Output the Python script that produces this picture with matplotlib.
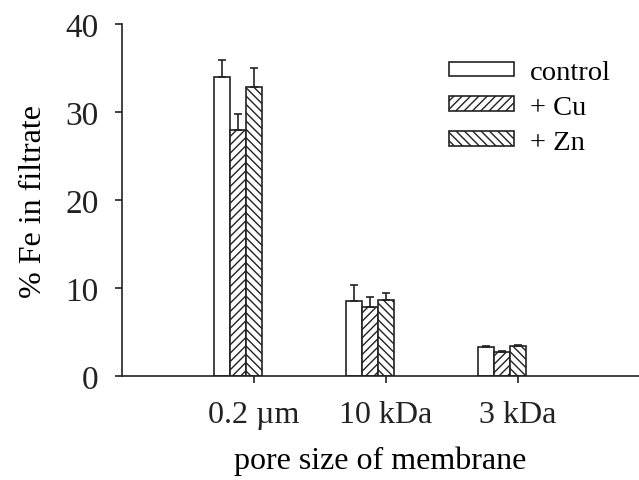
import numpy as np
import matplotlib
matplotlib.use("Agg")
import matplotlib.pyplot as plt

plt.rcParams['font.family'] = ['Liberation Serif', 'DejaVu Serif']
plt.rcParams['hatch.linewidth'] = 1.0

categories = ["0.2 \u00b5m", "10 kDa", "3 kDa"]
series = ["control", "+ Cu", "+ Zn"]
control = [34.0, 8.5, 3.3]
control_err = [1.9, 1.9, 0.1]
cu = [28.0, 7.8, 2.7]
cu_err = [1.8, 1.2, 0.1]
zn = [32.9, 8.7, 3.4]
zn_err = [2.1, 0.7, 0.1]

hatches = ["", "////", "\\\\\\\\"]
offsets = [-0.242, -0.121, 0.0]
width = 0.121

fig = plt.figure(figsize=(6.39, 4.81), dpi=100)
ax = fig.add_axes([0.191, 0.216, 0.809, 0.732])

x = np.arange(len(categories))
for vals, errs, h, off, lab in zip([control, cu, zn], [control_err, cu_err, zn_err],
                                   hatches, offsets, series):
    ax.bar(x + off, vals, width, facecolor="white", edgecolor="#222222",
           linewidth=1.2, hatch=h, label=lab, zorder=2)
    ax.errorbar(x + off, vals, yerr=[np.zeros(len(errs)), errs], fmt="none",
                ecolor="#222222", elinewidth=1.2, capsize=3, capthick=1.2, zorder=3)

ax.set_xlim(-1.0, 2.917)
ax.set_ylim(0, 40)
ax.set_yticks([0, 10, 20, 30, 40])
ax.set_xticks(x)
ax.set_xticklabels(categories)
ax.spines["top"].set_visible(False)
ax.spines["right"].set_visible(False)
for s in ["left", "bottom"]:
    ax.spines[s].set_linewidth(1.2)
    ax.spines[s].set_color("#222222")
ax.tick_params(axis="both", direction="out", length=5, width=1.2,
               colors="#222222")
ax.tick_params(axis="y", pad=12, labelsize=24)
ax.tick_params(axis="x", pad=12, labelsize=23)
ax.set_ylabel("% Fe in filtrate", fontsize=23, labelpad=12)
ax.set_xlabel("pore size of membrane", fontsize=23, labelpad=12)

ax.legend(loc="upper right", bbox_to_anchor=(0.995, 0.97), frameon=False, fontsize=20.5,
          handlelength=2.3, handleheight=0.42, labelspacing=0.34, handletextpad=0.55)

fig.savefig("out.png", dpi=100)
